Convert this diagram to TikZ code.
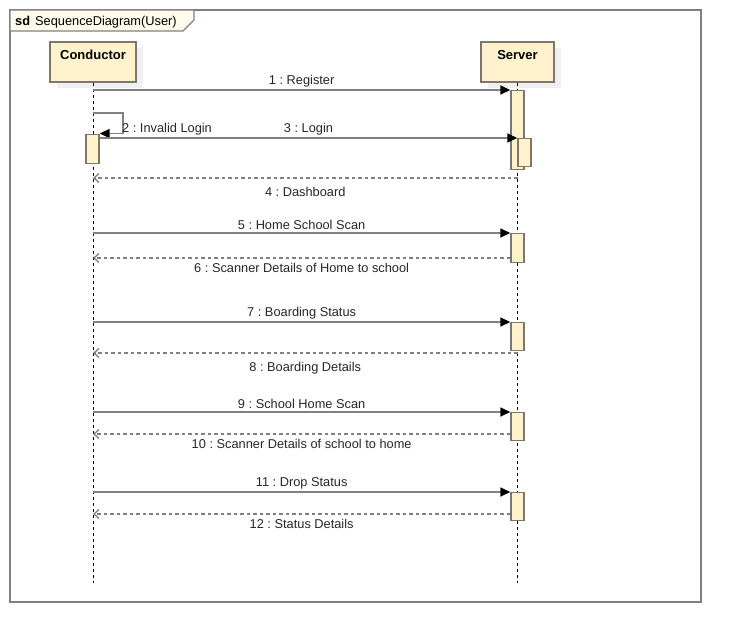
\documentclass[tikz,border=0pt]{standalone}
\usepackage{fontspec}
\setmainfont{Liberation Sans}
\frenchspacing
\usepackage{xcolor}
\definecolor{umlFill}{HTML}{FFF2CC}
\definecolor{umlEdge}{HTML}{7D776A}
\definecolor{umlLine}{HTML}{808080}
\definecolor{umlShade}{HTML}{F0F0F0}
\usetikzlibrary{arrows.meta,shadows}

\begin{document}
\begin{tikzpicture}[x=1pt, y=-1pt,
  every node/.style={font=\fontsize{12.8}{15}\selectfont},
  head/.style={draw=umlEdge, line width=1.6pt, fill=umlFill,
    font=\fontsize{13}{15}\selectfont\bfseries, anchor=north,
    minimum height=40pt, text height=9.5pt, text depth=14pt, inner ysep=8.25pt,
    drop shadow={shadow xshift=7pt, shadow yshift=-6pt, fill=umlShade, opacity=1}},
  act/.style={draw=umlEdge, line width=1.4pt, fill=umlFill, anchor=north,
    minimum width=13pt, inner sep=0pt},
  life/.style={black, line width=0.8pt, dash pattern=on 3pt off 3pt},
  call/.style={umlLine, line width=1.5pt, -{Triangle[length=10pt, width=9pt, black]}},
  reply/.style={umlLine, line width=1.3pt, dash pattern=on 3.5pt off 3pt,
    -{Straight Barb[length=5pt, width=9pt, umlLine]}},
  lbl/.style={text=black!85, inner sep=2.5pt},
  under/.style={below, yshift=-#1pt}]
  \useasboundingbox (0,0) rectangle (741,642);
  % ---------- frame ----------
  \draw[umlLine, line width=1.5pt] (10,10) rectangle (701,602);
  \draw[umlLine, line width=1.2pt, fill=umlFill!40] (10,10) -- (194,10) -- (194,20) -- (183,31) -- (10,31) -- cycle;
  \node[anchor=base west, inner sep=0pt] (title) at (15,26)
    {\textbf{sd}\hspace{5pt}SequenceDiagram(User)};
  % ---------- lifelines ----------
  \node[head, minimum width=86pt] (cond) at (93,41) {Conductor};
  \node[head, minimum width=73pt] (serv) at (517.5,41) {Server};
  \coordinate (condEnd) at (93,583);
  \coordinate (servEnd) at (517.5,583);
  \draw[life] (cond.south) -- (condEnd);
  \draw[life] (serv.south) -- (servEnd);
  % ---------- activations ----------
  \node[act, minimum height=79pt] (actA) at (517.5,90) {};
  \node[act, minimum height=28pt] (actB) at (524.5,138) {};
  \node[act, minimum height=29pt] (actC) at (92.5,133.5) {};
  \node[act, minimum height=29pt] (actD) at (517.5,233) {};
  \node[act, minimum height=28pt] (actE) at (517.5,322) {};
  \node[act, minimum height=28pt] (actF) at (517.5,412) {};
  \node[act, minimum height=28pt] (actG) at (517.5,492) {};
  % ---------- lifeline points ----------
  \coordinate (c1) at (93,90);
  \coordinate (c2) at (93,113);
  \coordinate (c4) at (93,178);
  \coordinate (s4) at (517.5,178);
  \coordinate (c5) at (93,233);
  \coordinate (c6) at (93,258);
  \coordinate (c7) at (93,322);
  \coordinate (c8) at (93,353);
  \coordinate (s8) at (517.5,353);
  \coordinate (c9) at (93,412);
  \coordinate (c10) at (93,434);
  \coordinate (c11) at (93,492);
  \coordinate (c12) at (93,514);
  % ---------- messages ----------
  \draw[call] (c1) -- node[lbl, above] {1 : Register} (actA.north west);
  \draw[call] (c2) -- ++(30,0) |- (actC.north east);
  \node[lbl, anchor=base west, inner sep=0pt] (m2) at (122,132) {2 : Invalid Login};
  \draw[call] (actC.east |- actB.north) -- node[lbl, above] {3 : Login} (actB.north west);
  \draw[reply] (s4) -- node[lbl, under=6] {4 : Dashboard} (c4);
  \draw[call] (c5) -- node[lbl, above] {5 : Home School Scan} (actD.north west);
  \draw[reply] (actD.west |- c6) -- node[lbl, under=2.5] {6 : Scanner Details of Home to school} (c6);
  \draw[call] (c7) -- node[lbl, above] {7 : Boarding Status} (actE.north west);
  \draw[reply] (s8) -- node[lbl, under=6] {8 : Boarding Details} (c8);
  \draw[call] (c9) -- node[lbl, above] {9 : School Home Scan} (actF.north west);
  \draw[reply] (actF.west |- c10) -- node[lbl, under=2.5] {10 : Scanner Details of school to home} (c10);
  \draw[call] (c11) -- node[lbl, above] {11 : Drop Status} (actG.north west);
  \draw[reply] (actG.west |- c12) -- node[lbl, under=2.5] {12 : Status Details} (c12);
\end{tikzpicture}
\end{document}
